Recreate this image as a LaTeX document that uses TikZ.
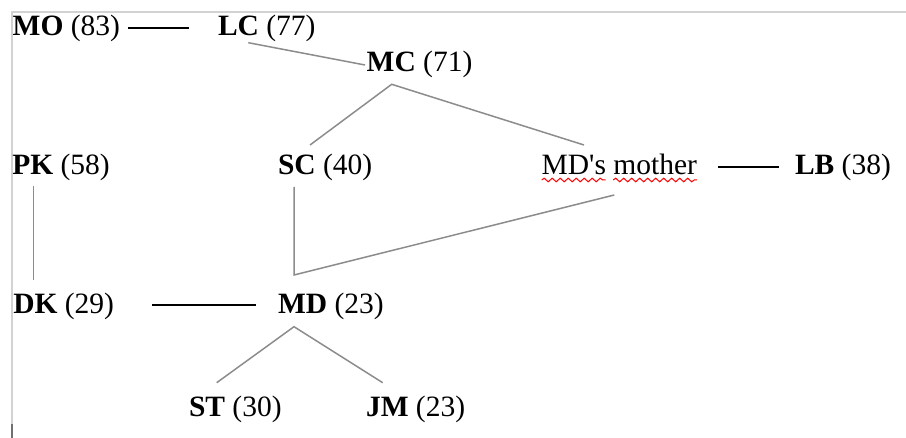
\documentclass[tikz,border=0pt]{standalone}
\usepackage{fontspec}
\setmainfont{Liberation Serif}
\usetikzlibrary{decorations.pathmorphing}
\definecolor{framegray}{HTML}{D2D2D2}
\definecolor{linegray}{HTML}{8C8C8C}
\definecolor{tickgray}{HTML}{707070}
\tikzset{
  person/.style={anchor=base west, inner sep=0pt, outer sep=0pt, font=\fontsize{29.5}{34}\selectfont},
  kin/.style={draw=linegray, line width=1.5pt},
  spouse/.style={draw=black, line width=1.7pt},
  frame/.style={draw=framegray, line width=2pt},
  spell/.style={draw=red, line width=1pt, decorate, decoration={snake, amplitude=1.8pt, segment length=8pt}}
}
\begin{document}
\begin{tikzpicture}[x=1pt, y=-1pt]
\useasboundingbox (0,0) rectangle (906,438);
% page frame
\draw[frame] (11.7,438) -- (11.7,11.7) -- (906,11.7);
\draw[draw=tickgray, line width=2pt] (11.7,424) -- (11.7,438);
% people
\node[person] (mo)  at (12.7,35.7)  {\textbf{MO} (83)};
\node[person] (lc)  at (218,35.7)   {\textbf{LC} (77)};
\node[person] (mc)  at (366.7,71.7) {\textbf{MC} (71)};
\node[person] (pk)  at (12.3,175)   {\textbf{PK} (58)};
\node[person] (sc)  at (278,175)    {\textbf{SC} (40)};
\node[person] (mdm) at (541.7,175)  {MD\textquotesingle s mother};
\node[person] (lb)  at (795,175)    {\textbf{LB} (38)};
\node[person] (dk)  at (13.3,313.5) {\textbf{DK} (29)};
\node[person] (md)  at (278,313.5)  {\textbf{MD} (23)};
\node[person] (st)  at (189,416.7)  {\textbf{ST} (30)};
\node[person] (jm)  at (366,416.7)  {\textbf{JM} (23)};
% spell-check underline
\draw[spell] ([shift={(0,5)}]mdm.base west) -- ++(64,0);
\draw[spell] ([shift={(71.5,5)}]mdm.base west) -- ([shift={(0,5)}]mdm.base east);
% spouse lines
\draw[spouse] ([shift={(8,-7.4)}]mo.base east) -- ([shift={(-29,-7.4)}]lc.base west);
\draw[spouse] ([shift={(21,-8.3)}]mdm.base east) -- ([shift={(-15.7,-8.3)}]lb.base west);
\draw[spouse] ([shift={(37.7,-8.5)}]dk.base east) -- ([shift={(-22,-8.5)}]md.base west);
% descent lines
\draw[kin] ([shift={(30.3,7)}]lc.base west) -- ([shift={(-1.7,-6.7)}]mc.base west);
\draw[kin] ([shift={(32,-30)}]sc.base west) -- ([shift={(25,12.6)}]mc.base west) -- ([shift={(42.3,-30)}]mdm.base west);
\draw[kin] ([shift={(21,10.7)}]pk.base west) -- ([shift={(20,-33.5)}]dk.base west);
\draw[kin] ([shift={(16,12)}]sc.base west) -- ([shift={(16,-38.5)}]md.base west) -- ([shift={(72.6,20)}]mdm.base west);
\draw[kin] ([shift={(27.7,-34)}]st.base west) -- ([shift={(16,13.2)}]md.base west) -- ([shift={(16.7,-34)}]jm.base west);
\end{tikzpicture}
\end{document}
